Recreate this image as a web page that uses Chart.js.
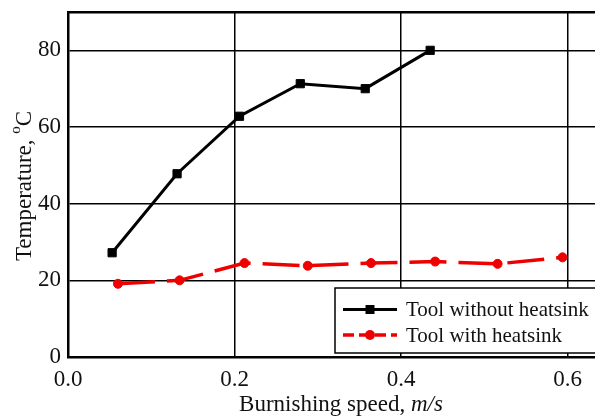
<!DOCTYPE html>
<html lang="en">
<head>
  <meta charset="UTF-8">
  <title>Burnishing temperature</title>
  <script src="https://cdn.jsdelivr.net/npm/chart.js"></script>
  <style>
    html, body { margin: 0; padding: 0; background: #fff; }
    #wrap { width: 595px; height: 416px; }
  </style>
</head>
<body>
  <div id="wrap"><canvas id="tempChart" width="595" height="416"></canvas></div>

  <script>
    // values
    const speedNoSink = [0.053, 0.131, 0.206, 0.279, 0.357, 0.435];
    const tempNoSink  = [27.2, 47.8, 62.8, 71.3, 70.0, 80.0];
    const speedSink   = [0.060, 0.134, 0.212, 0.288, 0.364, 0.441, 0.516, 0.594];
    const tempSink    = [19.1, 20.0, 24.5, 23.8, 24.5, 24.9, 24.3, 26.0];
    const xTicks = [0.0, 0.2, 0.4, 0.6];
    const yTicks = [0, 20, 40, 60, 80];

    const serif = '"Liberation Serif", "Times New Roman", serif';

    function toPoints(xs, ys) {
      return xs.map((x, i) => ({ x: x, y: ys[i] }));
    }

    // no extra room for half labels at the ends of the axes
    function noPad(s) {
      s.paddingTop = 0; s.paddingBottom = 0;
      s.paddingLeft = 0; s.paddingRight = 0;
    }

    // axis titles (italic units, superscript degree)
    const axisTitles = {
      id: 'axisTitles',
      afterDraw(chart) {
        const ctx = chart.ctx;
        ctx.save();
        ctx.fillStyle = '#111';
        ctx.textBaseline = 'middle';

        // x title
        const plain = 'Burnishing speed, ';
        const unit = 'm/s';
        ctx.font = '23px ' + serif;
        const w1 = ctx.measureText(plain).width;
        ctx.font = 'italic 23px ' + serif;
        const w2 = ctx.measureText(unit).width;
        let x = 341 - (w1 + w2) / 2;
        ctx.textAlign = 'left';
        ctx.font = '23px ' + serif;
        ctx.fillText(plain, x, 405);
        ctx.font = 'italic 23px ' + serif;
        ctx.fillText(unit, x + w1, 405);

        // y title, rotated
        ctx.translate(25, 186);
        ctx.rotate(-Math.PI / 2);
        const main = 'Temperature, ';
        ctx.font = '23px ' + serif;
        const m1 = ctx.measureText(main).width;
        ctx.font = '15px ' + serif;
        const m2 = ctx.measureText('o').width;
        ctx.font = '23px ' + serif;
        const m3 = ctx.measureText('C').width;
        let sx = -(m1 + m2 + m3) / 2;
        ctx.fillText(main, sx, 0);
        ctx.font = '15px ' + serif;
        ctx.fillText('o', sx + m1, -9);
        ctx.font = '23px ' + serif;
        ctx.fillText('C', sx + m1 + m2, 0);
        ctx.restore();
      }
    };

    // legend box sitting in the lower right of the plot
    const boxLegend = {
      id: 'boxLegend',
      afterDatasetsDraw(chart) {
        const ctx = chart.ctx;
        ctx.save();
        ctx.fillStyle = '#fff';
        ctx.fillRect(335, 288, 270, 65);
        ctx.strokeStyle = '#000';
        ctx.lineWidth = 1.5;
        ctx.strokeRect(335, 288, 270, 65);

        const rows = [309.5, 335];
        chart.data.datasets.forEach((ds, i) => {
          const y = rows[i];
          ctx.strokeStyle = ds.borderColor;
          ctx.lineWidth = ds.borderWidth;
          ctx.setLineDash(ds.legendDash || []);
          ctx.beginPath();
          ctx.moveTo(343, y);
          ctx.lineTo(397, y);
          ctx.stroke();
          ctx.setLineDash([]);
          ctx.fillStyle = ds.pointBackgroundColor;
          if (ds.pointStyle === 'rect') {
            ctx.fillRect(370 - 4.5, y - 4.5, 9, 9);
          } else {
            ctx.beginPath();
            ctx.arc(370, y, 5, 0, Math.PI * 2);
            ctx.fill();
          }
          ctx.fillStyle = '#111';
          ctx.font = '21px ' + serif;
          ctx.textAlign = 'left';
          ctx.textBaseline = 'middle';
          ctx.fillText(ds.label, 406, y + 1);
        });
        ctx.restore();
      }
    };

    const ctx = document.getElementById('tempChart').getContext('2d');
    new Chart(ctx, {
      type: 'line',
      data: {
        datasets: [
          {
            label: 'Tool without heatsink',
            data: toPoints(speedNoSink, tempNoSink),
            borderColor: '#000',
            backgroundColor: '#000',
            pointBackgroundColor: '#000',
            pointBorderColor: '#000',
            borderWidth: 3,
            pointStyle: 'rect',
            pointRadius: 5.8,
            pointBorderWidth: 1,
            fill: false
          },
          {
            label: 'Tool with heatsink',
            data: toPoints(speedSink, tempSink),
            borderColor: '#ee0000',
            backgroundColor: '#ee0000',
            pointBackgroundColor: '#ee0000',
            pointBorderColor: '#ee0000',
            borderWidth: 3.5,
            borderDash: [37, 12],
            legendDash: [11, 5],
            pointStyle: 'circle',
            pointRadius: 4.5,
            pointBorderWidth: 1,
            fill: false
          }
        ]
      },
      options: {
        responsive: false,
        animation: false,
        layout: { padding: 0, autoPadding: false },
        plugins: {
          legend: { display: false },
          tooltip: { enabled: false }
        },
        scales: {
          x: {
            type: 'linear',
            position: 'bottom',
            min: 0,
            max: 0.633,
            afterFit: s => { s.height = 59; noPad(s); },
            afterBuildTicks: s => { s.ticks = xTicks.map(v => ({ value: v })); },
            grid: { color: '#000', lineWidth: 1.5, drawTicks: false },
            border: { color: '#000', width: 2.5 },
            ticks: {
              padding: 9,
              color: '#111',
              font: { family: serif, size: 23 },
              maxRotation: 0,
              autoSkip: false,
              callback: v => Number(v).toFixed(1)
            }
          },
          xTop: {
            type: 'linear',
            position: 'top',
            min: 0,
            max: 0.633,
            afterFit: s => { s.height = 12; noPad(s); },
            grid: { display: false, drawTicks: false },
            border: { color: '#000', width: 2.5 },
            ticks: { display: false }
          },
          y: {
            min: 0,
            max: 90,
            afterFit: s => { s.width = 68; noPad(s); },
            afterBuildTicks: s => { s.ticks = yTicks.map(v => ({ value: v })); },
            grid: { color: '#000', lineWidth: 1.5, drawTicks: false },
            border: { color: '#000', width: 2.5 },
            ticks: {
              padding: 7,
              color: '#111',
              font: { family: serif, size: 23 },
              callback: v => String(v)
            }
          }
        }
      },
      plugins: [boxLegend, axisTitles]
    });
  </script>
</body>
</html>
